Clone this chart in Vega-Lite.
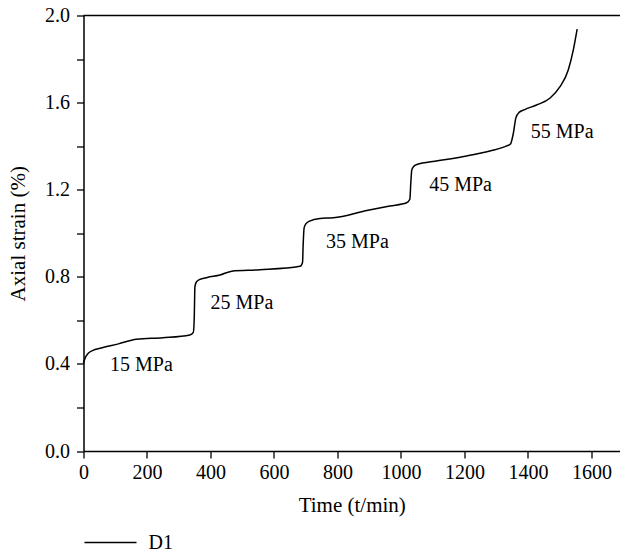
{
  "$schema": "https://vega.github.io/schema/vega-lite/v6.json",
  "autosize": {"type": "none"},
  "padding": {"left": 83.5, "top": 15.5, "right": 0, "bottom": 103},
  "width": 536.5,
  "height": 435.5,
  "background": "white",
  "config": {
    "view": {"stroke": null},
    "font": "Liberation Serif",
    "axis": {
      "domainColor": "#000", "domainWidth": 1.5, "tickColor": "#000", "tickWidth": 1.3,
      "labelColor": "#000", "titleColor": "#000", "labelFont": "Liberation Serif",
      "titleFont": "Liberation Serif", "labelFontSize": 20, "titleFontSize": 21,
      "titleFontWeight": "normal", "grid": false
    }
  },
  "datasets": {
    "curve": [
      {"t": 0, "s": 0.404, "series": "D1"},
      {"t": 6, "s": 0.43, "series": "D1"},
      {"t": 15, "s": 0.449, "series": "D1"},
      {"t": 30, "s": 0.462, "series": "D1"},
      {"t": 52, "s": 0.472, "series": "D1"},
      {"t": 110, "s": 0.492, "series": "D1"},
      {"t": 167, "s": 0.513, "series": "D1"},
      {"t": 250, "s": 0.52, "series": "D1"},
      {"t": 335, "s": 0.533, "series": "D1"},
      {"t": 346, "s": 0.545, "series": "D1"},
      {"t": 349, "s": 0.62, "series": "D1"},
      {"t": 351, "s": 0.755, "series": "D1"},
      {"t": 355, "s": 0.775, "series": "D1"},
      {"t": 365, "s": 0.787, "series": "D1"},
      {"t": 390, "s": 0.797, "series": "D1"},
      {"t": 430, "s": 0.808, "series": "D1"},
      {"t": 467, "s": 0.826, "series": "D1"},
      {"t": 556, "s": 0.832, "series": "D1"},
      {"t": 682, "s": 0.848, "series": "D1"},
      {"t": 690, "s": 0.866, "series": "D1"},
      {"t": 692, "s": 0.95, "series": "D1"},
      {"t": 695, "s": 1.025, "series": "D1"},
      {"t": 701, "s": 1.044, "series": "D1"},
      {"t": 712, "s": 1.056, "series": "D1"},
      {"t": 745, "s": 1.068, "series": "D1"},
      {"t": 787, "s": 1.071, "series": "D1"},
      {"t": 892, "s": 1.104, "series": "D1"},
      {"t": 965, "s": 1.125, "series": "D1"},
      {"t": 1018, "s": 1.14, "series": "D1"},
      {"t": 1028, "s": 1.156, "series": "D1"},
      {"t": 1031, "s": 1.23, "series": "D1"},
      {"t": 1034, "s": 1.29, "series": "D1"},
      {"t": 1040, "s": 1.307, "series": "D1"},
      {"t": 1055, "s": 1.318, "series": "D1"},
      {"t": 1100, "s": 1.329, "series": "D1"},
      {"t": 1207, "s": 1.355, "series": "D1"},
      {"t": 1280, "s": 1.378, "series": "D1"},
      {"t": 1333, "s": 1.401, "series": "D1"},
      {"t": 1345, "s": 1.41, "series": "D1"},
      {"t": 1354, "s": 1.459, "series": "D1"},
      {"t": 1362, "s": 1.53, "series": "D1"},
      {"t": 1372, "s": 1.555, "series": "D1"},
      {"t": 1390, "s": 1.568, "series": "D1"},
      {"t": 1427, "s": 1.589, "series": "D1"},
      {"t": 1469, "s": 1.62, "series": "D1"},
      {"t": 1501, "s": 1.673, "series": "D1"},
      {"t": 1527, "s": 1.75, "series": "D1"},
      {"t": 1543, "s": 1.842, "series": "D1"},
      {"t": 1555, "s": 1.937, "series": "D1"}
    ],
    "notes": [
      {"t": 83.5, "s": 0.369, "label": "15 MPa"},
      {"t": 400, "s": 0.653, "label": "25 MPa"},
      {"t": 764, "s": 0.932, "label": "35 MPa"},
      {"t": 1089, "s": 1.195, "label": "45 MPa"},
      {"t": 1409, "s": 1.439, "label": "55 MPa"}
    ]
  },
  "layer": [
    {
      "data": {"name": "curve"},
      "mark": {"type": "line", "strokeWidth": 1.5, "interpolate": "monotone"},
      "encoding": {
        "x": {
          "field": "t", "type": "quantitative",
          "scale": {"domain": [0, 1690], "nice": false, "zero": false},
          "axis": {
            "title": "Time (t/min)", "values": [0,100,200,300,400,500,600,700,800,900,1000,1100,1200,1300,1400,1500,1600],
            "labelExpr": "datum.value % 200 == 0 ? datum.label : ''",
            "tickSize": 7, "labelPadding": 4, "titlePadding": 12, "labelFlush": false, "labelOverlap": false,
            "format": "d"
          }
        },
        "y": {
          "field": "s", "type": "quantitative",
          "scale": {"domain": [0, 2], "nice": false},
          "axis": {
            "title": "Axial strain (%)",
            "values": [0, 0.2, 0.4, 0.6, 0.8, 1.0, 1.2, 1.4, 1.6, 1.8, 2.0],
            "labelExpr": "abs(datum.value * 10 % 4) < 0.001 || abs(datum.value * 10 % 4 - 4) < 0.001 ? format(datum.value, '.1f') : ''",
            "tickSize": 7, "labelPadding": 7, "titlePadding": 16, "labelFlush": false, "labelOverlap": false
          }
        },
        "color": {
          "field": "series", "type": "nominal",
          "scale": {"range": ["#000000"]},
          "legend": {
            "title": null, "orient": "none", "legendX": 0, "legendY": 500,
            "symbolType": "stroke", "symbolSize": 2704, "symbolStrokeWidth": 1.5,
            "labelFontSize": 20, "labelFont": "Liberation Serif", "labelColor": "#000", "labelOffset": 11,
            "padding": 0
          }
        }
      }
    },
    {
      "data": {"name": "notes"},
      "mark": {"type": "text", "align": "left", "baseline": "alphabetic", "fontSize": 20, "font": "Liberation Serif", "color": "#000"},
      "encoding": {
        "x": {"field": "t", "type": "quantitative"},
        "y": {"field": "s", "type": "quantitative"},
        "text": {"field": "label"}
      }
    },
    {
      "data": {"values": [{"top": 2}]},
      "mark": {"type": "rule", "color": "#000", "strokeWidth": 1.5},
      "encoding": {
        "y": {"field": "top", "type": "quantitative"}
      }
    }
  ]
}
